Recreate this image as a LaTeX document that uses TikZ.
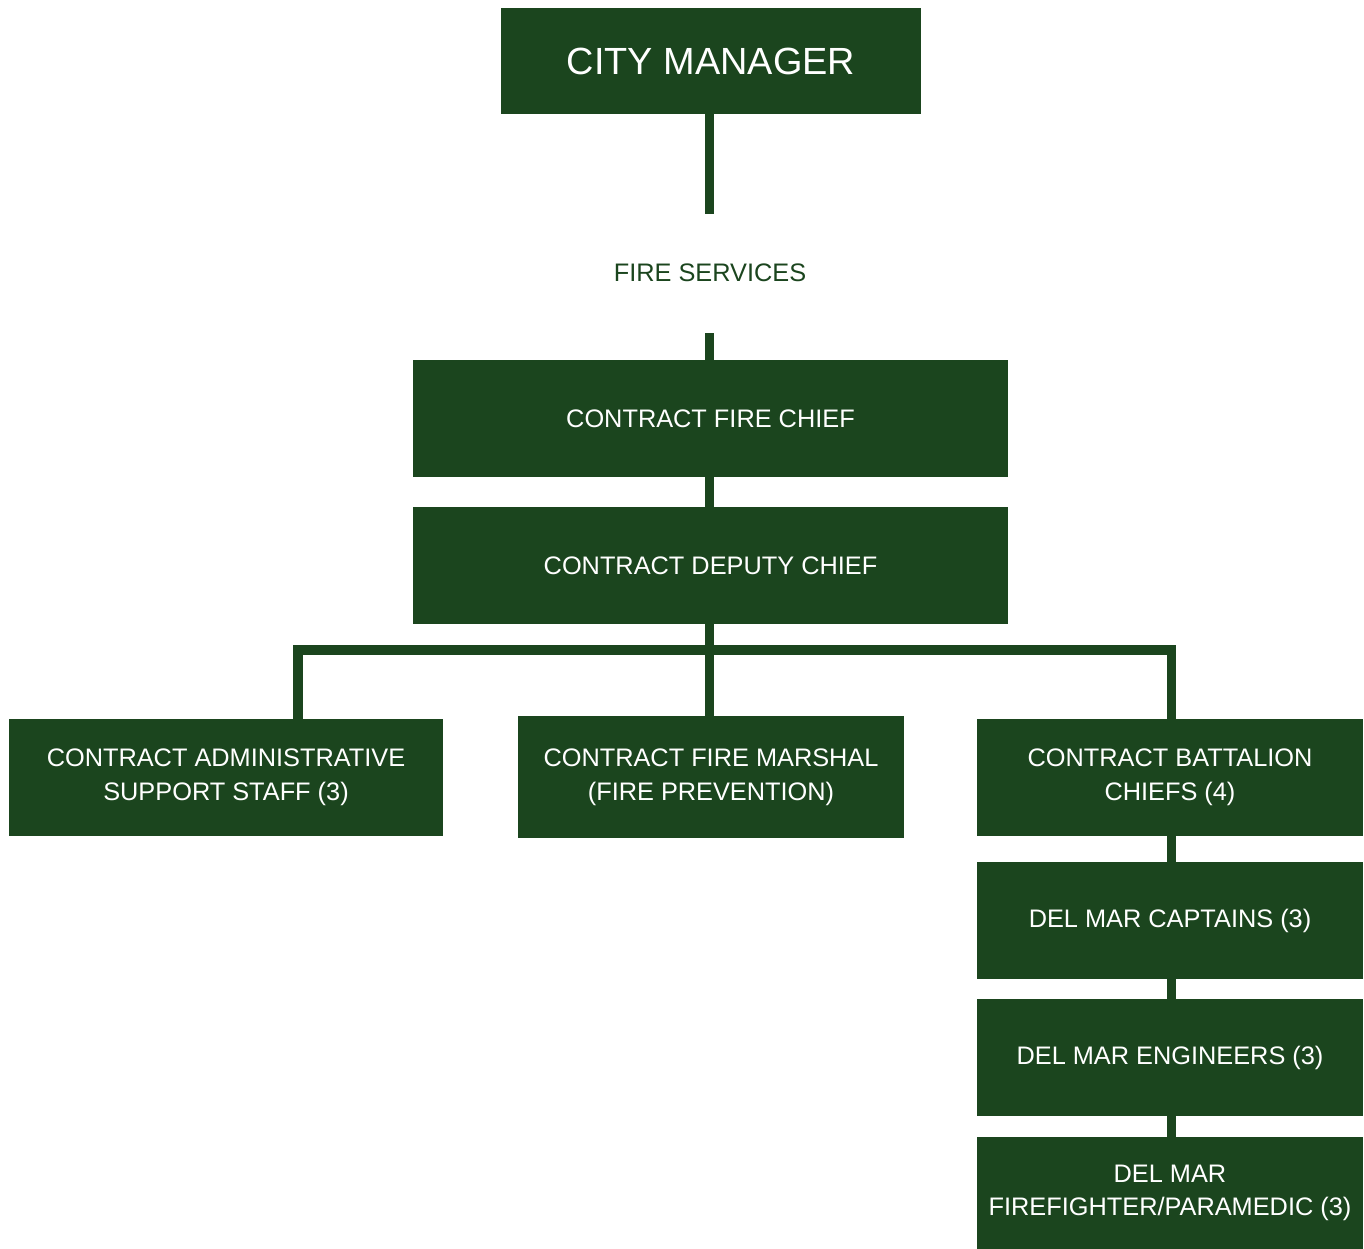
\documentclass[tikz,border=0pt]{standalone}
\usepackage{fontspec}
\setmainfont{Liberation Sans}
\begin{document}
\definecolor{chartgreen}{RGB}{27,69,30}
\begin{tikzpicture}[x=0.75pt,y=-0.75pt,
  box/.style={fill=chartgreen, text=white, inner sep=0pt, align=center,
    font=\fontsize{19pt}{25.2pt}\selectfont},
  conn/.style={draw=chartgreen, line width=7pt, line cap=butt, line join=miter}]
\useasboundingbox (0,0) rectangle (1364,1249);

% top of the chart
\node[box, minimum width=420*0.75pt, minimum height=106*0.75pt,
  font=\fontsize{28.4pt}{34pt}\selectfont] (cm) at (711,61) {CITY MANAGER};
\node[text=chartgreen, font=\fontsize{19pt}{25pt}\selectfont] (fs) at (710,273) {FIRE SERVICES};
\node[box, minimum width=595*0.75pt, minimum height=117*0.75pt] (chief) at (710.5,418.5) {CONTRACT FIRE CHIEF};
\node[box, minimum width=595*0.75pt, minimum height=117*0.75pt] (deputy) at (710.5,565.5) {CONTRACT DEPUTY CHIEF};

% second tier
\node[box, minimum width=434*0.75pt, minimum height=117*0.75pt] (admin) at (226,777.5) {CONTRACT ADMINISTRATIVE\\SUPPORT STAFF (3)};
\node[box, minimum width=386*0.75pt, minimum height=122*0.75pt] (marshal) at (711,777) {CONTRACT FIRE MARSHAL\\(FIRE PREVENTION)};
\node[box, minimum width=386*0.75pt, minimum height=117*0.75pt] (batt) at (1170,777.5) {CONTRACT BATTALION\\CHIEFS (4)};

% battalion chain
\node[box, minimum width=386*0.75pt, minimum height=117*0.75pt] (capt) at (1170,920.5) {DEL MAR CAPTAINS (3)};
\node[box, minimum width=386*0.75pt, minimum height=117*0.75pt] (eng) at (1170,1057.5) {DEL MAR ENGINEERS (3)};
\node[box, minimum width=386*0.75pt, minimum height=112*0.75pt] (ff) at (1170,1193) {DEL MAR\\FIREFIGHTER/PARAMEDIC (3)};

% connectors
\coordinate (t1) at (709.5,214);
\coordinate (t2) at (709.5,333);
\coordinate (bl) at (298,650);
\coordinate (br) at (1171.5,650);
\draw[conn] (t1 |- cm.south) -- (t1);
\draw[conn] (t2) -- (t2 |- chief.north);
\draw[conn] (t2 |- chief.south) -- (t2 |- deputy.north);
\draw[conn] (t2 |- deputy.south) -- (t2 |- marshal.north);
\draw[conn] (bl |- admin.north) -- (bl) -- (br) -- (br |- batt.north);
\draw[conn] (br |- batt.south) -- (br |- capt.north);
\draw[conn] (br |- capt.south) -- (br |- eng.north);
\draw[conn] (br |- eng.south) -- (br |- ff.north);
\end{tikzpicture}
\end{document}
